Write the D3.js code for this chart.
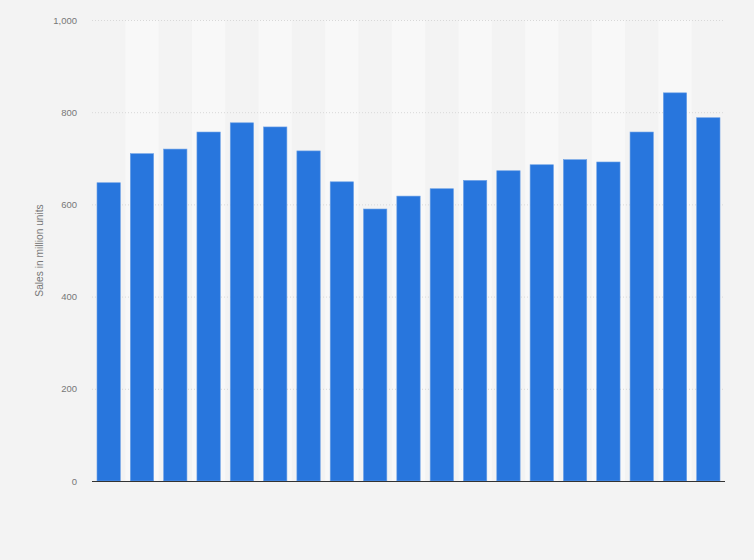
<!DOCTYPE html>
<html>
<head>
<meta charset="utf-8">
<script src="https://cdn.jsdelivr.net/npm/d3@7"></script>
<style>
  html, body { margin: 0; padding: 0; background: #f3f3f3; }
  svg { display: block; font-family: "Liberation Sans", Arial, sans-serif; }
</style>
</head>
<body>
<div id="chart"></div>
<script>
const width = 754;
const height = 560;

// one entry per bar, left to right (no x labels shown in the source)
const categories = d3.range(1, 20).map(String);
const sales = [647, 710, 720, 757, 777, 768, 716, 649, 590, 618, 634, 652, 673, 686, 697, 692, 757, 842, 788];
const yTicks = [0, 200, 400, 600, 800, 1000];
const yTitle = "Sales in million units";

const margin = {top: 20, right: 29, bottom: 79, left: 92};

const svg = d3.select("#chart")
    .append("svg")
    .attr("width", width)
    .attr("height", height)
    .attr("viewBox", [0, 0, width, height]);

svg.append("rect")
    .attr("width", width)
    .attr("height", height)
    .attr("fill", "#f3f3f3");

const x = d3.scaleBand()
    .domain(categories)
    .range([margin.left, width - margin.right])
    .paddingInner(0.3)
    .paddingOuter(0.15);

const y = d3.scaleLinear()
    .domain([0, 1000])
    .range([height - margin.bottom, margin.top]);

// alternating column shading
const step = x.step();
svg.append("g")
    .selectAll("rect")
    .data(categories.filter((d, i) => i % 2 === 1))
    .join("rect")
    .attr("x", d => x(d) - step * x.paddingInner() / 2)
    .attr("y", y(1000))
    .attr("width", step)
    .attr("height", y(0) - y(1000))
    .attr("fill", "#f8f8f8");

// gridlines
svg.append("g")
    .selectAll("line")
    .data(yTicks.filter(d => d > 0))
    .join("line")
    .attr("x1", margin.left)
    .attr("x2", width - margin.right)
    .attr("y1", d => y(d) + 0.5)
    .attr("y2", d => y(d) + 0.5)
    .attr("stroke", "#d8d8d8")
    .attr("stroke-width", 1)
    .attr("stroke-dasharray", "1,2");

// y axis labels
const yAxis = svg.append("g")
    .attr("transform", `translate(${margin.left - 15},0)`)
    .call(d3.axisLeft(y).tickValues(yTicks).tickSize(0).tickFormat(d3.format(",")));
yAxis.select(".domain").remove();
yAxis.selectAll("text")
    .attr("x", 0)
    .attr("fill", "#777")
    .style("font-size", "9.5px")
    .style("font-family", "Liberation Sans, Arial, sans-serif");

// bars
svg.append("g")
    .selectAll("rect")
    .data(sales)
    .join("rect")
    .attr("x", (d, i) => x(categories[i]))
    .attr("y", d => y(d))
    .attr("width", x.bandwidth())
    .attr("height", d => y(0) - y(d))
    .attr("fill", "#2876dd")
    .attr("stroke", "#6ba0e6")
    .attr("stroke-width", 0.6);

// baseline
svg.append("line")
    .attr("x1", margin.left)
    .attr("x2", width - margin.right)
    .attr("y1", y(0) + 0.5)
    .attr("y2", y(0) + 0.5)
    .attr("stroke", "#333")
    .attr("stroke-width", 1.2);

// y title
svg.append("text")
    .attr("transform", `translate(43,${(y(0) + y(1000)) / 2}) rotate(-90)`)
    .attr("text-anchor", "middle")
    .attr("fill", "#777")
    .style("font-size", "10.2px")
    .text(yTitle);
</script>
</body>
</html>
